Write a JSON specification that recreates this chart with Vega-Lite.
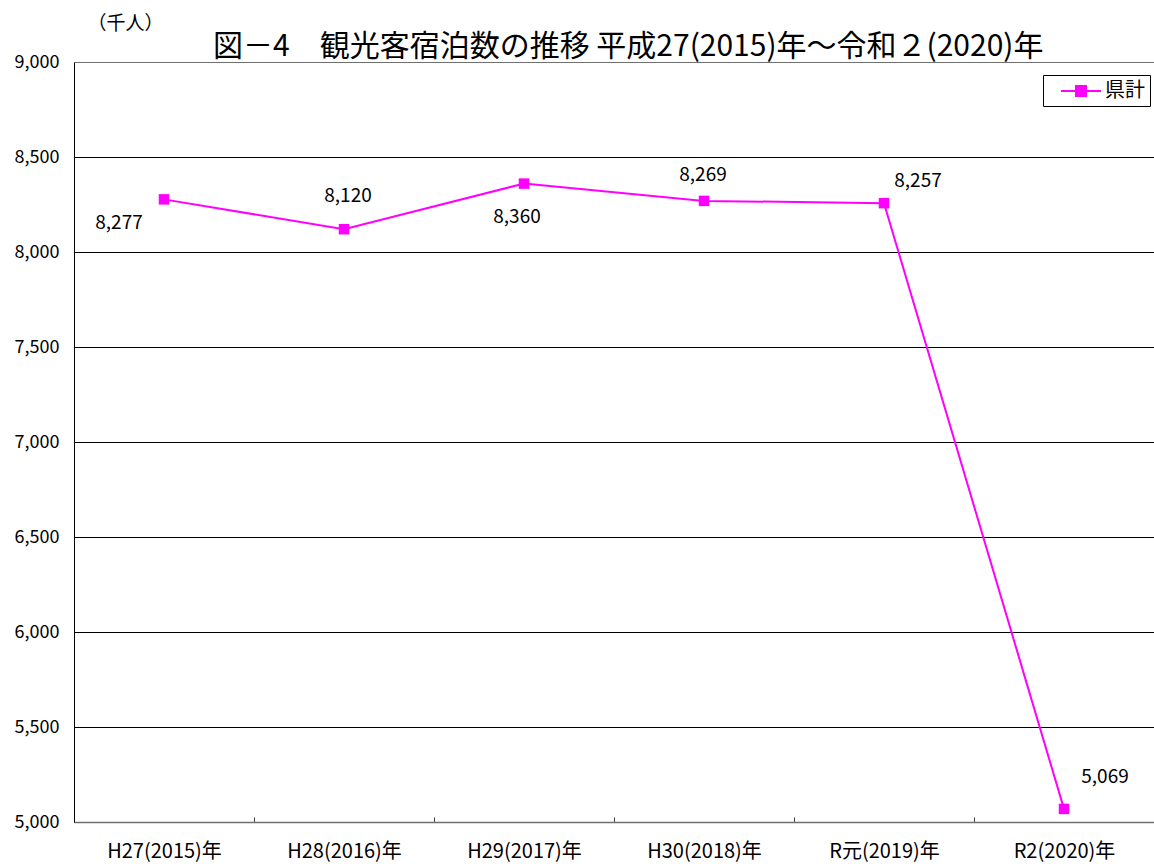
{
  "$schema": "https://vega.github.io/schema/vega-lite/v6.json",
  "width": 1080,
  "height": 760,
  "autosize": {"type": "none"},
  "padding": {"left": 74, "top": 62, "right": 0, "bottom": 42},
  "background": "white",
  "config": {
    "view": {"stroke": null},
    "font": "Noto Sans CJK JP",
    "text": {"font": "Noto Sans CJK JP"}
  },
  "title": {
    "text": "図－4　観光客宿泊数の推移 平成27(2015)年〜令和２(2020)年",
    "anchor": "start",
    "frame": "group",
    "dx": 139,
    "offset": -72,
    "font": "Noto Sans CJK JP",
    "fontSize": 30,
    "fontWeight": "normal",
    "color": "#000000",
    "baseline": "alphabetic"
  },
  "data": {
    "values": [
      {"year": "H27(2015)年", "value": 8277, "series": "県計"},
      {"year": "H28(2016)年", "value": 8120, "series": "県計"},
      {"year": "H29(2017)年", "value": 8360, "series": "県計"},
      {"year": "H30(2018)年", "value": 8269, "series": "県計"},
      {"year": "R元(2019)年", "value": 8257, "series": "県計"},
      {"year": "R2(2020)年", "value": 5069, "series": "県計"}
    ]
  },
  "encoding": {
    "x": {
      "field": "year",
      "type": "ordinal",
      "sort": null,
      "scale": {"type": "band", "paddingInner": 0, "paddingOuter": 0},
      "axis": {
        "title": null,
        "labelAngle": 0,
        "labelFont": "Noto Sans CJK JP",
        "labelFontSize": 20,
        "labelColor": "#000000",
        "labelPadding": 24,
        "tickBand": "extent",
        "tickSize": -5,
        "tickColor": "#404040",
        "domainColor": "#707070",
        "domainWidth": 1.5,
        "grid": false
      }
    },
    "y": {
      "field": "value",
      "type": "quantitative",
      "scale": {"domain": [5000, 9000], "nice": false, "zero": false},
      "axis": {
        "values": [5000, 5500, 6000, 6500, 7000, 7500, 8000, 8500, 9000],
        "format": ",d",
        "title": "（千人）",
        "titleAngle": 0,
        "titleX": 51,
        "titleY": -39,
        "titleAlign": "center",
        "titleBaseline": "middle",
        "titleFont": "Noto Sans CJK JP",
        "titleFontSize": 19,
        "titleFontWeight": "normal",
        "titleColor": "#000000",
        "labelFont": "Noto Sans CJK JP",
        "labelFontSize": 18,
        "labelColor": "#000000",
        "labelPadding": 15,
        "ticks": false,
        "domainColor": "#000000",
        "domainWidth": 1,
        "grid": true,
        "gridColor": {"condition": {"test": "datum.value === 9000 || datum.value === 5000", "value": "#707070"}, "value": "#000000"},
        "gridOpacity": 1,
        "gridWidth": 1
      }
    }
  },
  "layer": [
    {
      "mark": {"type": "line", "strokeWidth": 2},
      "encoding": {
        "color": {
          "field": "series",
          "type": "nominal",
          "scale": {"range": ["#FF00FF"]},
          "legend": {
            "title": null,
            "orient": "none",
            "legendX": 969,
            "legendY": 13,
            "padding": 5,
            "strokeColor": "#000000",
            "fillColor": "#FFFFFF",
            "symbolType": "M-2,0H2M-0.5,-0.5H0.5V0.5H-0.5Z",
            "symbolSize": 400,
            "symbolStrokeWidth": 2,
            "symbolOffset": 22,
            "labelOffset": 13,
            "labelFont": "Noto Sans CJK JP",
            "labelFontSize": 20,
            "labelColor": "#000000",
            "encode": {
              "symbols": {
                "update": {
                  "fill": {"value": "#FF00FF"},
                  "stroke": {"value": "#FF00FF"},
                  "strokeWidth": {"value": 2},
                  "shape": {"value": "M-2,0H2M-0.5,-0.5H0.5V0.5H-0.5Z"},
                  "opacity": {"value": 1}
                }
              }
            }
          }
        }
      }
    },
    {
      "mark": {"type": "point", "shape": "square", "filled": true, "size": 110, "opacity": 1, "color": "#FF00FF"}
    },
    {
      "transform": [{"filter": "datum.year === 'H27(2015)年'"}],
      "mark": {"type": "text", "fontSize": 19, "dx": -45, "dy": 24, "color": "#000000"},
      "encoding": {"text": {"field": "value", "type": "quantitative", "format": ",d"}}
    },
    {
      "transform": [{"filter": "datum.year === 'H28(2016)年'"}],
      "mark": {"type": "text", "fontSize": 19, "dx": 4, "dy": -33, "color": "#000000"},
      "encoding": {"text": {"field": "value", "type": "quantitative", "format": ",d"}}
    },
    {
      "transform": [{"filter": "datum.year === 'H29(2017)年'"}],
      "mark": {"type": "text", "fontSize": 19, "dx": -7, "dy": 33, "color": "#000000"},
      "encoding": {"text": {"field": "value", "type": "quantitative", "format": ",d"}}
    },
    {
      "transform": [{"filter": "datum.year === 'H30(2018)年'"}],
      "mark": {"type": "text", "fontSize": 19, "dx": -1, "dy": -26, "color": "#000000"},
      "encoding": {"text": {"field": "value", "type": "quantitative", "format": ",d"}}
    },
    {
      "transform": [{"filter": "datum.year === 'R元(2019)年'"}],
      "mark": {"type": "text", "fontSize": 19, "dx": 34, "dy": -22, "color": "#000000"},
      "encoding": {"text": {"field": "value", "type": "quantitative", "format": ",d"}}
    },
    {
      "transform": [{"filter": "datum.year === 'R2(2020)年'"}],
      "mark": {"type": "text", "fontSize": 19, "dx": 41, "dy": -32, "color": "#000000"},
      "encoding": {"text": {"field": "value", "type": "quantitative", "format": ",d"}}
    }
  ]
}
